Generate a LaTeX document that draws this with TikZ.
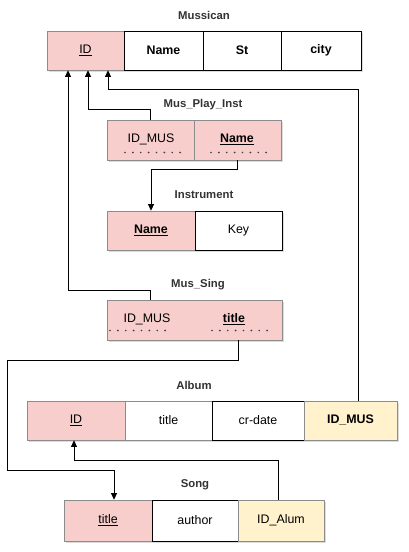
\documentclass[tikz,border=0pt]{standalone}
\usepackage{fontspec}
\setmainfont{Liberation Sans}
\usetikzlibrary{calc,arrows.meta}
\definecolor{pk}{HTML}{F8CECC}
\definecolor{fkc}{HTML}{FFF2CC}
\definecolor{bord}{HTML}{8C8C8C}
\begin{document}
\begin{tikzpicture}[x=0.75pt,y=-0.75pt,
  cell/.style={rectangle,inner sep=0pt,minimum height=29.25pt,font=\fontsize{9.3}{11}\selectfont,
    preaction={fill=black!30,opacity=0.45,transform canvas={shift={(1.8pt,-1.8pt)}}}},
  bcell/.style={font=\fontsize{9.3}{11}\selectfont\bfseries},
  pkcell/.style={cell,fill=pk,draw=bord},
  fkcell/.style={cell,fill=fkc,draw=bord},
  wcell/.style={cell,fill=white,draw=black},
  ttl/.style={font=\fontsize{8.5}{10}\selectfont\bfseries,text=black!80},
  txt/.style={font=\fontsize{9.3}{11}\selectfont,inner sep=1pt},
  dots/.style={line width=1.4pt,line cap=round,dash pattern=on 0pt off 5.9pt,color=black!75},
  arr/.style={line width=0.75pt,-{Triangle[length=5pt,width=4.5pt]}},
  conn/.style={line width=0.75pt}]
\useasboundingbox (0,0) rectangle (408,552);
\fill[white] (0,0) rectangle (408,552);

% ---- Mussican
\node[ttl] (t-mus) at (204,15) {Mussican};
\node[pkcell,minimum width=57.75pt] (m-id) at (85.5,50.5) {\underline{ID}};
\node[wcell,minimum width=59.25pt,bcell] (m-name) at (163.5,50.5) {Name};
\node[wcell,minimum width=58.5pt,bcell] (m-st) at (242,50.5) {St};
\node[wcell,minimum width=60pt,bcell] (m-city) at (321,50.5) {city};

% ---- Mus_Play_Inst
\node[ttl] (t-mpi) at (203,105) {Mus\_Play\_Inst};
\node[pkcell,minimum width=65.25pt,minimum height=30pt] (mpi-id) at (150.5,140) {};
\node[pkcell,minimum width=65.25pt,minimum height=30pt] (mpi-name) at (237.5,140) {};
\node[txt] (mpi-idt) at (151,139) {ID\_MUS};
\node[txt,bcell] (mpi-namet) at (237,139.5) {\underline{Name}};
\draw[dots] (125,152.5) -- (183,152.5);
\draw[dots] (211,152.5) -- (270,152.5);

% ---- Instrument
\node[ttl] (t-ins) at (204,195) {Instrument};
\node[pkcell,minimum width=66pt,bcell] (ins-name) at (151,230.5) {\underline{Name}};
\node[wcell,minimum width=65.25pt] (ins-key) at (238.5,230.5) {\raisebox{2pt}{Key}};

% ---- Mus_Sing
\node[ttl] (t-ms) at (198,285) {Mus\_Sing};
\node[pkcell,minimum width=131.25pt,minimum height=30pt] (ms) at (194.5,320) {};
\node[txt] (ms-id) at (147,319) {ID\_MUS};
\node[txt,bcell] (ms-title) at (234,319.5) {\underline{title}};
\draw[dots] (110,330.5) -- (168,330.5);
\draw[dots] (212,330.5) -- (270,330.5);

% ---- Album
\node[ttl] (t-al) at (194,385) {Album};
\node[pkcell,minimum width=73.5pt] (al-id) at (76,420.5) {\underline{ID}};
\node[wcell,minimum width=65.25pt,draw=bord] (al-title) at (168.5,420.5) {title};
\node[wcell,minimum width=69pt] (al-date) at (258,420.5) {cr-date};
\node[fkcell,minimum width=69.75pt,bcell] (al-mus) at (350.5,420.5) {\raisebox{2pt}{ID\_MUS}};

% ---- Song
\node[ttl] (t-song) at (195,485) {Song};
\node[pkcell,minimum width=66pt,minimum height=30.75pt] (s-title) at (108,520.5) {\underline{title}};
\node[wcell,minimum width=64.5pt,minimum height=30.75pt] (s-author) at (195,520.5) {author};
\node[fkcell,minimum width=64.5pt,minimum height=30.75pt] (s-alum) at (281,520.5) {\raisebox{2pt}{ID\_Alum}};

% ---- connectors
\coordinate (b1) at (68,290);
\draw[arr] (ms.north -| mpi-id) |- (b1) -- (b1 |- m-id.south);
\coordinate (b2) at (88,110);
\draw[arr] (mpi-id.north) |- (b2) -- (b2 |- m-id.south);
\coordinate (b3r) at (358,90);
\coordinate (b3) at (108,90);
\draw[arr] (b3r |- al-mus.north) -- (b3r) -- (b3) -- (b3 |- m-id.south);
\coordinate (b4) at (151,170);
\draw[arr] (mpi-name.south) |- (b4) -- (ins-name.north);
\coordinate (b5a) at (238,360);
\coordinate (b5b) at (7,470);
\coordinate (b5c) at (114,470);
\draw[arr] (b5a |- ms.south) -- (b5a) -| (b5b) -- (b5c) -- (b5c |- s-title.north);
\coordinate (b6r) at (278,460);
\coordinate (b6) at (74,460);
\draw[arr] (b6r |- s-alum.north) -- (b6r) -- (b6) -- (b6 |- al-id.south);
\end{tikzpicture}
\end{document}
